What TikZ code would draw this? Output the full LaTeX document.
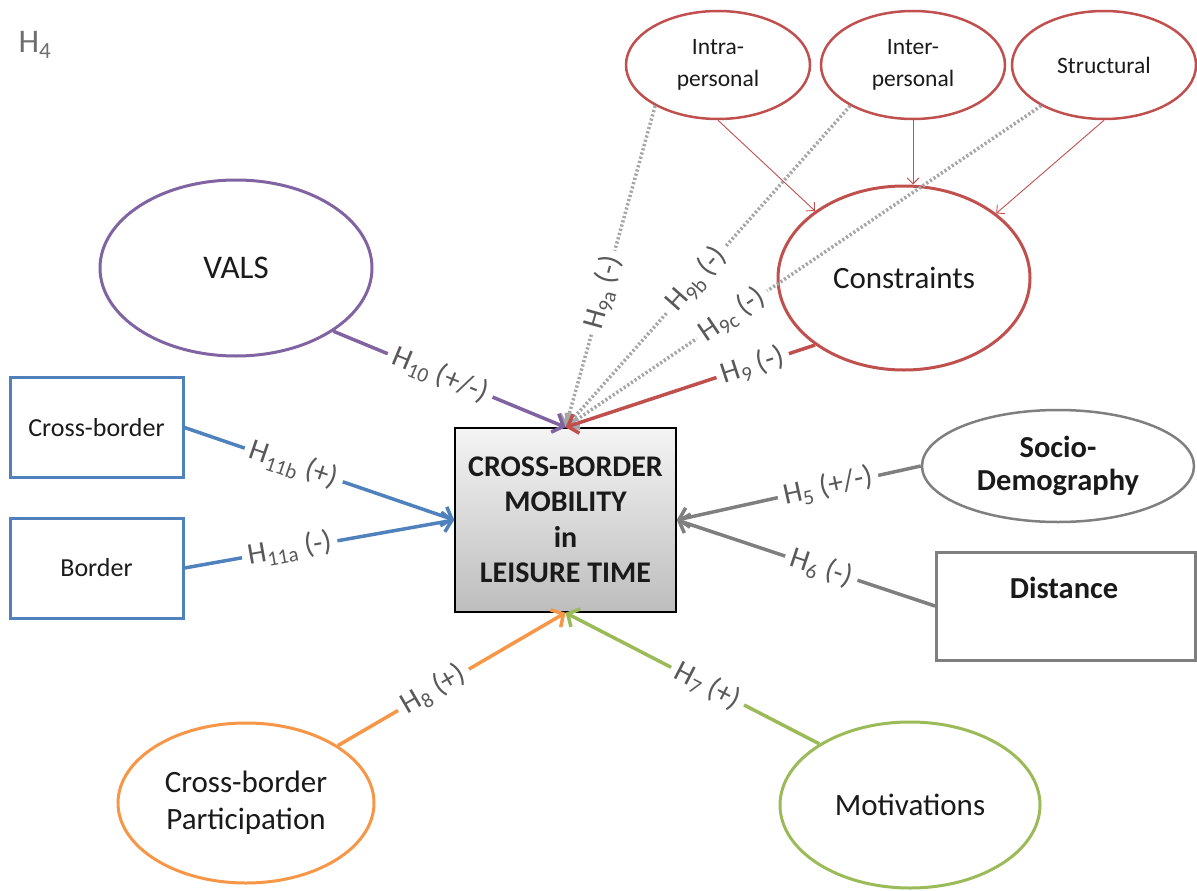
\documentclass[tikz,border=0pt]{standalone}
\usepackage{fontspec}
\setmainfont{Carlito}
\usetikzlibrary{shapes.geometric,arrows.meta}
\definecolor{vpurple}{HTML}{8064A2}
\definecolor{cred}{HTML}{C0504D}
\definecolor{bblue}{HTML}{4F81BD}
\definecolor{sgray}{HTML}{7F7F7F}
\definecolor{porange}{HTML}{F79646}
\definecolor{mgreen}{HTML}{9BBB59}
\definecolor{dotgray}{HTML}{A6A6A6}
\definecolor{labgray}{HTML}{595959}
\definecolor{tagtone}{HTML}{6E6E6E}
\definecolor{ink}{HTML}{1A1A1A}
\definecolor{toptone}{HTML}{F4F4F4}
\definecolor{bottone}{HTML}{BDBDBD}

\begin{document}
\begin{tikzpicture}[x=1pt,y=-1pt,
  every node/.style={text=ink},
  oval/.style={ellipse, line width=3pt, inner sep=0pt, align=center,
    font=\fontsize{31}{37}\selectfont},
  smalloval/.style={oval, line width=2.5pt, draw=cred, minimum width=184pt,
    minimum height=108pt, font=\fontsize{23.5}{32}\selectfont},
  factorbox/.style={rectangle, line width=3pt, draw=bblue, minimum width=173pt,
    minimum height=100pt, inner sep=0pt, font=\fontsize{26}{30}\selectfont},
  link/.style={line width=3.5pt, -{Straight Barb[length=9pt,width=20pt]}},
  fine/.style={line width=0.9pt, draw=cred, -{Straight Barb[length=6pt,width=12pt]}},
  dots/.style={line width=3.5pt, draw=dotgray, dash pattern=on 2.2pt off 2.2pt,
    -{Straight Barb[length=9pt,width=18pt]}},
  hyp/.style={sloped, fill=white, text=labgray, inner xsep=6pt, inner ysep=2pt,
    font=\fontsize{30}{34}\selectfont},
]
\useasboundingbox (0,0) rectangle (1197,891);

% corner tag
\node[text=tagtone, font=\fontsize{33}{38}\selectfont] (tag) at (35,45) {H\textsubscript{4}};

% constraint dimensions
\node[smalloval] (intra) at (718,65) {Intra-\\personal};
\node[smalloval] (inter) at (913,65) {Inter-\\personal};
\node[smalloval] (struct) at (1104,65) {Structural};

% outer factors
\node[oval, draw=cred, minimum width=252pt, minimum height=184pt] (con) at (904,278) {Constraints};
\node[oval, draw=vpurple, minimum width=272pt, minimum height=176pt,
  font=\fontsize{33}{38}\selectfont] (vals) at (236,268) {VALS};
\node[factorbox] (cb) at (96.5,427.5) {Cross-border};
\node[factorbox] (bd) at (96.5,568) {Border};
\node[oval, draw=sgray, line width=2.5pt, minimum width=272pt, minimum height=112pt,
  font=\bfseries\fontsize{30.5}{33}\selectfont] (soc) at (1058,466) {Socio-\\Demography};
\node[rectangle, draw=sgray, line width=3pt, minimum width=259pt, minimum height=108pt] (dist) at (1066,606) {};
\node[font=\bfseries\fontsize{30.5}{33}\selectfont] (distlab) at (1064,588) {Distance};
\node[oval, draw=porange, minimum width=256pt, minimum height=160pt] (part) at (246,803) {Cross-border\\Participation};
\node[oval, draw=mgreen, minimum width=260pt, minimum height=166pt] (mot) at (910,805) {Motivations};

% central construct
\node[draw=black, line width=1.5pt, top color=toptone, bottom color=bottone,
  minimum width=221pt, minimum height=184pt, align=center,
  font=\bfseries\fontsize{30}{35.5}\selectfont] (mob) at (565.5,520)
  {CROSS-BORDER\\MOBILITY\\in\\LEISURE TIME};

% dimensions feeding the constraints
\draw[fine] (intra.south) -- (con.143);
\draw[fine] (inter.south) -- (inter.south |- con.north);
\draw[fine] (struct.south) -- (con.35);

% direct effects of the dimensions
\draw[dots] (intra.213) -- node[hyp, pos=0.58] {H\textsubscript{9a} (-)} (mob.north);
\draw[dots] (inter.213) -- node[hyp, pos=0.54] {H\textsubscript{9b} (-)} (mob.north);
\draw[dots] (struct.213) -- node[hyp, pos=0.65] {H\textsubscript{9c} (-)} (mob.north);

% hypotheses on the central construct
\draw[link, draw=vpurple] (vals.327) -- node[hyp, pos=0.46] {H\textsubscript{10} (+/-)} (mob.north);
\draw[link, draw=cred] (con.217) -- node[hyp, pos=0.25] {H\textsubscript{9} (-)} (mob.north);
\draw[link, draw=bblue] (cb.east) -- node[hyp, pos=0.405] {H\textsubscript{11b} (+)} (mob.west);
\draw[link, draw=bblue] (bd.east) -- node[hyp, pos=0.39] {H\textsubscript{11a} (-)} (mob.west);
\draw[link, draw=sgray] (soc.west) -- node[hyp, pos=0.38] {H\textsubscript{5} (+/-)} (mob.east);
\draw[link, draw=sgray] (dist.west) -- node[hyp, pos=0.44] {H\textsubscript{6} (-)} (mob.east);
\draw[link, draw=porange] (part.32) -- node[hyp, pos=0.42] {H\textsubscript{8} (+)} (mob.south);
\draw[link, draw=mgreen] (mot.146) -- node[hyp, pos=0.44] {H\textsubscript{7} (+)} (mob.south);
\end{tikzpicture}
\end{document}
